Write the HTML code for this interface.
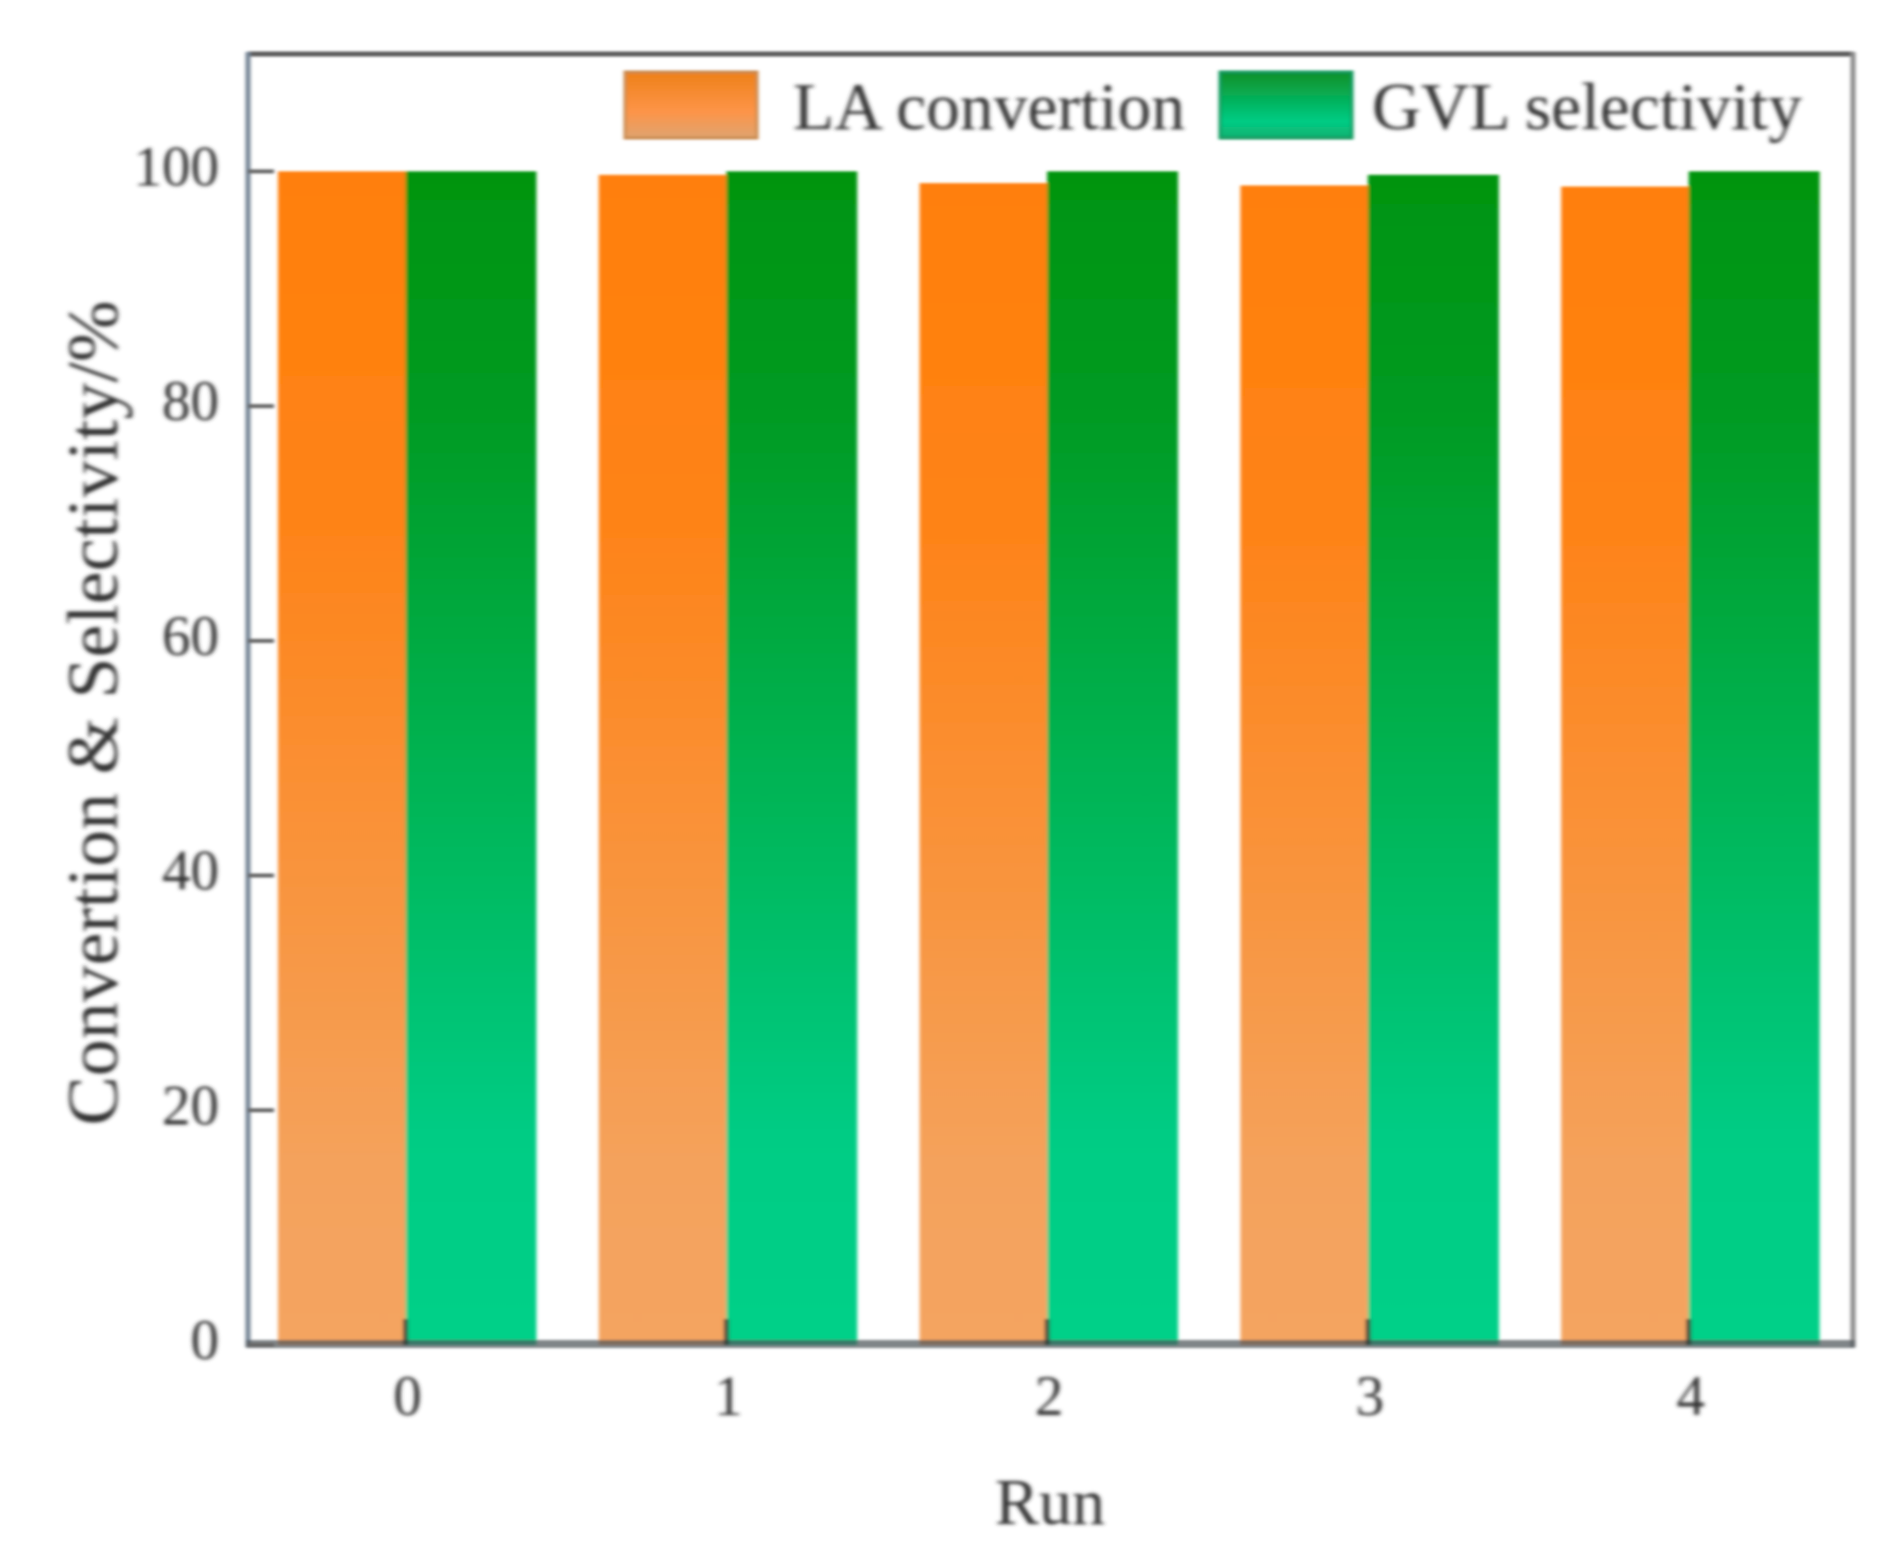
<!DOCTYPE html>
<html lang="en">
<head>
<meta charset="utf-8">
<title>LA conversion and GVL selectivity by run</title>
<style>
  html, body { margin: 0; padding: 0; background: #ffffff; }
  body { width: 1884px; height: 1551px; overflow: hidden; }
  svg { display: block; }
  text { font-family: "Liberation Serif", "Times New Roman", serif; fill: #333333; }
</style>
</head>
<body>
<svg id="chart" xmlns="http://www.w3.org/2000/svg" width="1884" height="1551" viewBox="0 0 1884 1551">
  <defs>
    <linearGradient id="orange-fill" x1="0" y1="0" x2="0" y2="1">
      <stop offset="0" stop-color="#ff7f08"/>
      <stop offset="0.3" stop-color="#fe8318"/>
      <stop offset="0.85" stop-color="#f4a25c"/>
      <stop offset="1" stop-color="#f4a460"/>
    </linearGradient>
    <linearGradient id="green-fill" x1="0" y1="0" x2="0" y2="1">
      <stop offset="0" stop-color="#03940f"/>
      <stop offset="0.2" stop-color="#029a22"/>
      <stop offset="0.82" stop-color="#00cc84"/>
      <stop offset="1" stop-color="#00d088"/>
    </linearGradient>
    <linearGradient id="legend-orange-fill" x1="0" y1="0" x2="0" y2="1">
      <stop offset="0" stop-color="#ee8018"/>
      <stop offset="0.6" stop-color="#fd9448"/>
      <stop offset="1" stop-color="#dfa470"/>
    </linearGradient>
    <linearGradient id="legend-green-fill" x1="0" y1="0" x2="0" y2="1">
      <stop offset="0" stop-color="#0c9028"/>
      <stop offset="0.75" stop-color="#00cc84"/>
      <stop offset="1" stop-color="#14b070"/>
    </linearGradient>
    <filter id="soft-blur" filterUnits="userSpaceOnUse" x="0" y="0" width="1884" height="1551">
      <feGaussianBlur stdDeviation="1.8 1.4"/>
    </filter>
    <filter id="text-blur" filterUnits="userSpaceOnUse" x="0" y="0" width="1884" height="1551">
      <feGaussianBlur stdDeviation="1.3"/>
    </filter>
  </defs>
  <rect x="0" y="0" width="1884" height="1551" fill="#ffffff"/>
  <g id="scene" filter="url(#soft-blur)">
    <g id="bars"></g>
    <g id="axes">
      <line x1="248" y1="54" x2="1853" y2="54" stroke="#5a5a5a" stroke-width="5"/>
      <line x1="248" y1="52" x2="248" y2="1347" stroke="#748494" stroke-width="5"/>
      <line x1="1853" y1="52" x2="1853" y2="1347" stroke="#8a8a8a" stroke-width="5"/>
      <line x1="246" y1="1344" x2="1855" y2="1344" stroke="#4f555a" stroke-width="8" stroke-opacity="0.72"/>
    </g>
    <g id="ticks"></g>
    <g id="tick-labels" filter="url(#text-blur)"></g>
    <g filter="url(#text-blur)">
      <text x="1050" y="1524" font-size="66" text-anchor="middle">Run</text>
      <text transform="translate(117,713) rotate(-90)" font-size="72" text-anchor="middle" textLength="825" lengthAdjust="spacingAndGlyphs">Convertion &amp; Selectivity/%</text>
    </g>
    <g>
      <g>
        <rect x="625" y="72" width="132" height="66" fill="url(#legend-orange-fill)" stroke="#c98a50" stroke-width="3"/>
        <g filter="url(#text-blur)">
          <text x="793" y="129" font-size="66.7" textLength="392" lengthAdjust="spacingAndGlyphs">LA convertion</text>
        </g>
      </g>
      <g>
        <rect x="1220" y="72" width="132" height="66" fill="url(#legend-green-fill)" stroke="#189a60" stroke-width="3"/>
        <g filter="url(#text-blur)">
          <text x="1372" y="129" font-size="66.7" textLength="430" lengthAdjust="spacingAndGlyphs">GVL selectivity</text>
        </g>
      </g>
    </g>
  </g>
</svg>
<script>
const categories = ["0", "1", "2", "3", "4"];
const laConversion = [100, 99.7, 99.0, 98.8, 98.7];
const gvlSelectivity = [100, 100, 100, 99.7, 100];
const yTickValues = [0, 20, 40, 60, 80, 100];
const yTickLabels = ["0", "20", "40", "60", "80", "100"];

const SVG_NS = "http://www.w3.org/2000/svg";
const plot = { left: 248, right: 1852, top: 54, bottom: 1345 };
const xDomain = [-0.491, 4.509];
const yDomain = [0, 110];
const laBarWidthUnits = 0.3975;
const gvlBarWidthUnits = 0.408;

function xScale(v) {
  return plot.left + (v - xDomain[0]) / (xDomain[1] - xDomain[0]) * (plot.right - plot.left);
}
function yScale(v) {
  return plot.bottom - (v - yDomain[0]) / (yDomain[1] - yDomain[0]) * (plot.bottom - plot.top);
}
function make(tag, attrs) {
  const el = document.createElementNS(SVG_NS, tag);
  for (const k in attrs) el.setAttribute(k, attrs[k]);
  return el;
}

const barsLayer = document.getElementById("bars");
const ticksLayer = document.getElementById("ticks");
const labelsLayer = document.getElementById("tick-labels");
const laBarPx = xScale(laBarWidthUnits) - xScale(0);
const gvlBarPx = xScale(gvlBarWidthUnits) - xScale(0);

categories.forEach(function (cat, i) {
  const center = xScale(i);

  const laBar = make("rect", {
    x: center - laBarPx,
    y: yScale(laConversion[i]),
    width: laBarPx,
    height: yScale(0) - yScale(laConversion[i]),
    fill: "url(#orange-fill)"
  });
  
  
  barsLayer.appendChild(laBar);

  const gvlBar = make("rect", {
    x: center,
    y: yScale(gvlSelectivity[i]),
    width: gvlBarPx,
    height: yScale(0) - yScale(gvlSelectivity[i]),
    fill: "url(#green-fill)"
  });
  
  
  barsLayer.appendChild(gvlBar);

  const xTick = make("line", {
    x1: center, y1: plot.bottom, x2: center, y2: plot.bottom - 26,
    stroke: "#2c3a34", "stroke-width": 5, "stroke-opacity": 0.8
  });
  
  
  ticksLayer.appendChild(xTick);

  const xLabel = make("text", {
    x: center + 2, y: 1415, "font-size": 57, "text-anchor": "middle"
  });
  
  
  xLabel.textContent = cat;
  labelsLayer.appendChild(xLabel);
});

yTickValues.forEach(function (value, i) {
  const y = yScale(value);

  const yTick = make("line", {
    x1: plot.left, y1: y, x2: plot.left + 26, y2: y,
    stroke: "#666666", "stroke-width": 4
  });
  
  
  ticksLayer.appendChild(yTick);

  const yLabel = make("text", {
    x: 219, y: y + 14, "font-size": 57, "text-anchor": "end"
  });
  
  
  yLabel.textContent = yTickLabels[i];
  labelsLayer.appendChild(yLabel);
});
</script>
</body>
</html>
